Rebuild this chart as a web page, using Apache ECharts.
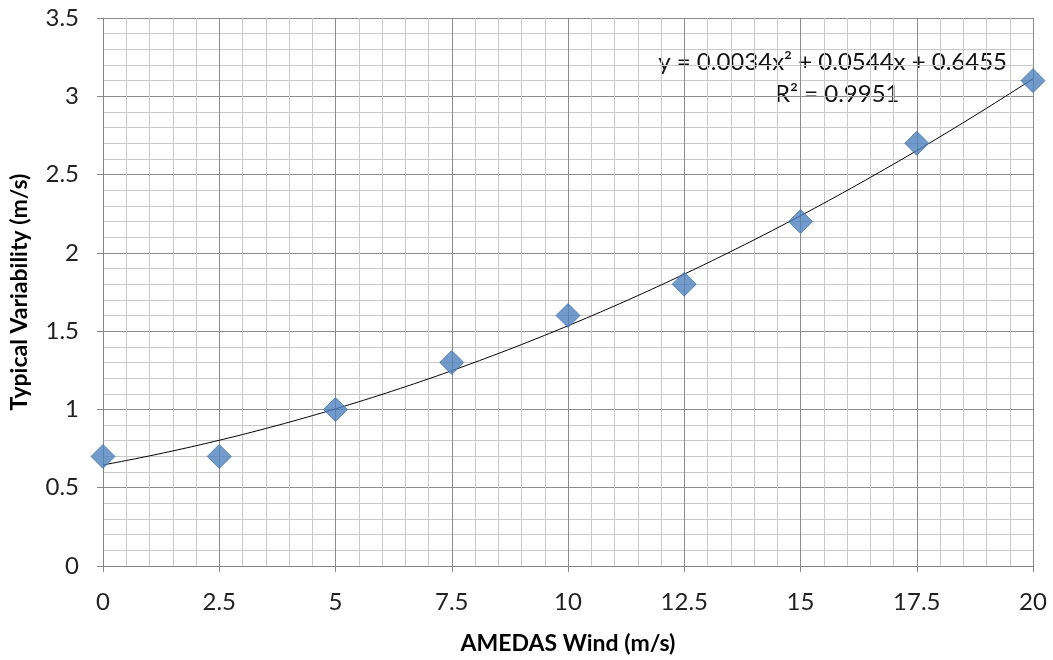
<!DOCTYPE html>
<html><head><meta charset="utf-8">
<script src="https://cdn.jsdelivr.net/npm/echarts@6/dist/echarts.min.js"></script>
<style>html,body{margin:0;padding:0;background:#fff}#c{width:1053px;height:660px}</style>
</head><body><div id="c"></div>
<script>
const windSpeed = [0, 2.5, 5, 7.5, 10, 12.5, 15, 17.5, 20];
const variability = [0.7, 0.7, 1.0, 1.3, 1.6, 1.8, 2.2, 2.7, 3.1];
const equationText = ['y = 0.0034x\u00b2 + 0.0544x + 0.6455', 'R\u00b2 = 0.9951'];
const xTitle = 'AMEDAS Wind (m/s)';
const yTitle = 'Typical Variability (m/s)';

// least-squares quadratic fit of the data (trendline, as in the original)
function quadFit(xs, ys) {
  let S = [0,0,0,0,0], T = [0,0,0];
  for (let i = 0; i < xs.length; i++) {
    let p = 1;
    for (let k = 0; k < 5; k++) { S[k] += p; if (k < 3) T[k] += p * ys[i]; p *= xs[i]; }
  }
  const A = [[S[0],S[1],S[2],T[0]],[S[1],S[2],S[3],T[1]],[S[2],S[3],S[4],T[2]]];
  for (let i = 0; i < 3; i++) {
    for (let j = i+1; j < 3; j++) {
      const f = A[j][i]/A[i][i];
      for (let k = i; k < 4; k++) A[j][k] -= f*A[i][k];
    }
  }
  const c = [0,0,0];
  for (let i = 2; i >= 0; i--) {
    let s = A[i][3];
    for (let k = i+1; k < 3; k++) s -= A[i][k]*c[k];
    c[i] = s/A[i][i];
  }
  return c;
}
const coef = quadFit(windSpeed, variability);
const trend = [];
for (let i = 0; i <= 200; i++) {
  const x = i * 0.1;
  trend.push([x, coef[0] + coef[1]*x + coef[2]*x*x]);
}

const font = 'Lato, "Open Sans", sans-serif';
const chart = echarts.init(document.getElementById('c'));
chart.setOption({
  backgroundColor: '#fff',
  animation: false,
  grid: {left: 103, right: 20, top: 18, bottom: 94},
  xAxis: {
    type: 'value', min: 0, max: 20, interval: 2.5,
    name: xTitle, nameLocation: 'middle', nameGap: 66,
    nameTextStyle: {fontFamily: font, fontSize: 23, fontWeight: 'bold', color: '#000'},
    axisLine: {lineStyle: {color: '#868686', width: 1}},
    axisTick: {show: true, length: 6, lineStyle: {color: '#868686'}},
    axisLabel: {fontFamily: font, fontSize: 24, color: '#222', margin: 24},
    splitLine: {show: true, lineStyle: {color: '#8c8c8c', width: 1}},
    minorTick: {show: false, splitNumber: 5},
    minorSplitLine: {show: true, lineStyle: {color: '#c9c9c9', width: 1}}
  },
  yAxis: {
    type: 'value', min: 0, max: 3.5, interval: 0.5,
    name: yTitle, nameLocation: 'middle', nameGap: 72,
    nameTextStyle: {fontFamily: font, fontSize: 23, fontWeight: 'bold', color: '#000'},
    axisLine: {show: true, lineStyle: {color: '#868686', width: 1}},
    axisTick: {show: true, length: 6, lineStyle: {color: '#868686'}},
    axisLabel: {fontFamily: font, fontSize: 24, color: '#222', margin: 24},
    splitLine: {show: true, lineStyle: {color: '#8c8c8c', width: 1}},
    minorTick: {show: false, splitNumber: 5},
    minorSplitLine: {show: true, lineStyle: {color: '#c9c9c9', width: 1}}
  },
  graphic: [
    {type: 'text', right: 46, top: 50, style: {text: equationText[0], fontFamily: font, fontSize: 24, fill: '#111'}},
    {type: 'text', left: 775, top: 82, style: {text: equationText[1], fontFamily: font, fontSize: 24, fill: '#111'}}
  ],
  series: [
    {
      type: 'line', data: trend, showSymbol: false, symbol: 'none',
      lineStyle: {color: '#000', width: 1}, z: 3, silent: true
    },
    {
      type: 'scatter', data: windSpeed.map((x, i) => [x, variability[i]]),
      symbol: 'diamond', symbolSize: [24, 24],
      itemStyle: {color: '#4F81BD', borderColor: '#4475B0', borderWidth: 1}, z: 4
    }
  ]
});
</script></body></html>
